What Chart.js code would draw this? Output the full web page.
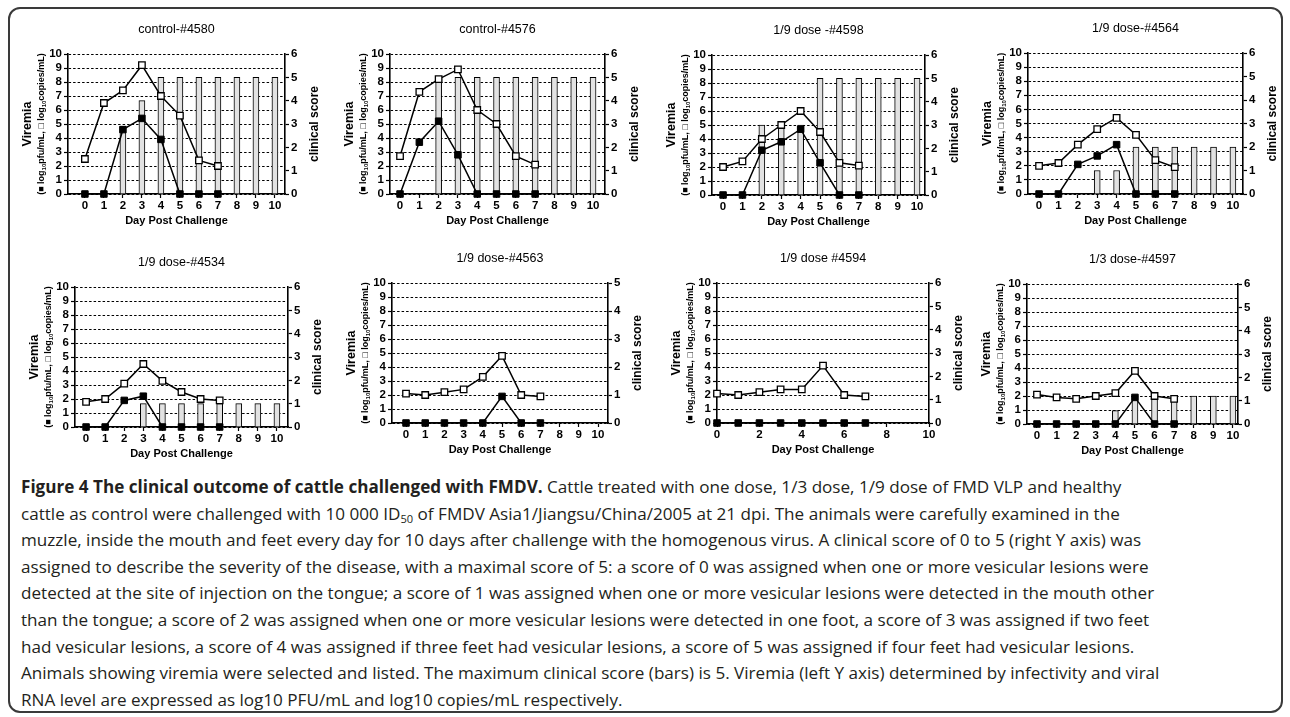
<!DOCTYPE html>
<html>
<head>
<meta charset="utf-8">
<script src="https://cdn.jsdelivr.net/npm/chart.js@4.4.1/dist/chart.umd.min.js"></script>
<style>
html, body { margin: 0; padding: 0; background: #fff; }
#page { position: relative; width: 1290px; height: 717px; overflow: hidden; }
#frame { position: absolute; left: 8px; top: 7px; width: 1271px; height: 702px; border: 2px solid #3a3a3a; border-radius: 12px; }
canvas { position: absolute; }
#caption { position: absolute; left: 21px; top: 474px; font-family: 'Open Sans', sans-serif; font-size: 17.1px; color: #231f20; }
#caption div { height: 26.6px; line-height: 26.6px; white-space: nowrap; }
#caption sub { font-size: 65%; vertical-align: -0.25em; line-height: 0; }
</style>
</head>
<body>
<div id="page">
  <div id="frame"></div>
  <canvas id="c4580"></canvas>
  <canvas id="c4576"></canvas>
  <canvas id="c4598"></canvas>
  <canvas id="c4564"></canvas>
  <canvas id="c4534"></canvas>
  <canvas id="c4563"></canvas>
  <canvas id="c4594"></canvas>
  <canvas id="c4597"></canvas>
  <div id="caption">
    <div><b>Figure 4 The clinical outcome of cattle challenged with FMDV.</b> Cattle treated with one dose, 1/3 dose, 1/9 dose of FMD VLP and healthy</div>
    <div>cattle as control were challenged with 10 000 ID<sub>50</sub> of FMDV Asia1/Jiangsu/China/2005 at 21 dpi. The animals were carefully examined in the</div>
    <div>muzzle, inside the mouth and feet every day for 10 days after challenge with the homogenous virus. A clinical score of 0 to 5 (right Y axis) was</div>
    <div>assigned to describe the severity of the disease, with a maximal score of 5: a score of 0 was assigned when one or more vesicular lesions were</div>
    <div>detected at the site of injection on the tongue; a score of 1 was assigned when one or more vesicular lesions were detected in the mouth other</div>
    <div>than the tongue; a score of 2 was assigned when one or more vesicular lesions were detected in one foot, a score of 3 was assigned if two feet</div>
    <div>had vesicular lesions, a score of 4 was assigned if three feet had vesicular lesions, a score of 5 was assigned if four feet had vesicular lesions.</div>
    <div>Animals showing viremia were selected and listed. The maximum clinical score (bars) is 5. Viremia (left Y axis) determined by infectivity and viral</div>
    <div>RNA level are expressed as log10 PFU/mL and log10 copies/mL respectively.</div>
  </div>
</div>
<script>
// days post challenge and tick labels
const days = [0, 1, 2, 3, 4, 5, 6, 7, 8, 9, 10];
const dayTicks = [0, 1, 2, 3, 4, 5, 6, 7, 8, 9, 10];
const dayTicksEven = [0, 2, 4, 6, 8, 10];
const viremiaTicks = [0, 1, 2, 3, 4, 5, 6, 7, 8, 9, 10];
const scoreTicks6 = [0, 1, 2, 3, 4, 5, 6];
const scoreTicks5 = [0, 1, 2, 3, 4, 5];

// viremia (log10 pfu/mL = filled, log10 copies/mL = open), days 0-7
// clinical score (bars), days 0-10
const pfu4580 = [0, 0, 4.6, 5.4, 3.9, 0, 0, 0];
const copies4580 = [2.5, 6.5, 7.4, 9.2, 7.0, 5.6, 2.4, 2.0];
const score4580 = [0, 0, 2.9, 4, 5, 5, 5, 5, 5, 5, 5];

const pfu4576 = [0, 3.7, 5.2, 2.8, 0, 0, 0, 0];
const copies4576 = [2.7, 7.3, 8.2, 8.9, 6.0, 5.0, 2.7, 2.1];
const score4576 = [0, 0, 5, 5, 5, 5, 5, 5, 5, 5, 5];

const pfu4598 = [0, 0, 3.2, 3.8, 4.7, 2.3, 0, 0];
const copies4598 = [2.0, 2.4, 4.0, 5.0, 6.0, 4.5, 2.3, 2.1];
const score4598 = [0, 0, 3, 3, 3, 5, 5, 5, 5, 5, 5];

const pfu4564 = [0, 0, 2.1, 2.7, 3.5, 0, 0, 0];
const copies4564 = [2.0, 2.2, 3.5, 4.6, 5.4, 4.2, 2.4, 1.9];
const score4564 = [0, 0, 0, 1, 1, 2, 2, 2, 2, 2, 2];

const pfu4534 = [0, 0, 1.9, 2.2, 0, 0, 0, 0];
const copies4534 = [1.8, 2.0, 3.1, 4.5, 3.3, 2.5, 2.0, 1.9];
const score4534 = [0, 0, 0, 1, 1, 1, 1, 1, 1, 1, 1];

const pfu4563 = [0, 0, 0, 0, 0, 1.9, 0, 0];
const copies4563 = [2.1, 2.0, 2.2, 2.4, 3.3, 4.8, 2.0, 1.9];
const score4563 = [0, 0, 0, 0, 0, 0, 0, 0, 0, 0, 0];

const pfu4594 = [0, 0, 0, 0, 0, 0, 0, 0];
const copies4594 = [2.1, 2.0, 2.2, 2.4, 2.4, 4.1, 2.0, 1.9];
const score4594 = [0, 0, 0, 0, 0, 0, 0, 0, 0, 0, 0];

const pfu4597 = [0, 0, 0, 0, 0, 1.9, 0, 0];
const copies4597 = [2.1, 1.9, 1.8, 2.0, 2.2, 3.8, 2.0, 1.8];
const score4597 = [0, 0, 0, 0, 0.57, 1.2, 1.2, 1.2, 1.2, 1.2, 1.2];

const FONT = "'Liberation Sans', Arial, sans-serif";
Chart.defaults.font.family = FONT;
Chart.defaults.color = '#000';

// panel layout: chart area [left, top, right, bottom] on the page, x range
const panels = [
  { id: 'c4580', title: 'control-#4580', area: [68, 54, 285, 194], xMin: -0.89, xMax: 10.53, xTicks: dayTicks, yTicks: scoreTicks6, pfu: pfu4580, copies: copies4580, score: score4580 },
  { id: 'c4576', title: 'control-#4576', area: [390, 54, 605, 194], xMin: -0.52, xMax: 10.62, xTicks: dayTicks, yTicks: scoreTicks6, pfu: pfu4576, copies: copies4576, score: score4576 },
  { id: 'c4598', title: '1/9 dose -#4598', area: [712, 55, 925, 195], xMin: -0.57, xMax: 10.41, xTicks: dayTicks, yTicks: scoreTicks6, pfu: pfu4598, copies: copies4598, score: score4598 },
  { id: 'c4564', title: '1/9 dose-#4564', area: [1028, 53, 1243, 194], xMin: -0.57, xMax: 10.52, xTicks: dayTicks, yTicks: scoreTicks6, pfu: pfu4564, copies: copies4564, score: score4564 },
  { id: 'c4534', title: '1/9 dose-#4534', area: [75, 287, 288, 427], xMin: -0.58, xMax: 10.58, xTicks: dayTicks, yTicks: scoreTicks6, pfu: pfu4534, copies: copies4534, score: score4534 },
  { id: 'c4563', title: '1/9 dose-#4563', area: [392, 283, 608, 423], xMin: -0.73, xMax: 10.52, xTicks: dayTicks, yTicks: scoreTicks5, pfu: pfu4563, copies: copies4563, score: score4563 },
  { id: 'c4594', title: '1/9 dose #4594', area: [717, 283, 929, 423], xMin: 0, xMax: 10, xTicks: dayTicksEven, yTicks: scoreTicks6, pfu: pfu4594, copies: copies4594, score: score4594 },
  { id: 'c4597', title: '1/3 dose-#4597', area: [1027, 284, 1238, 424], xMin: -0.51, xMax: 10.26, xTicks: dayTicks, yTicks: scoreTicks6, pfu: pfu4597, copies: copies4597, score: score4597 }
];

// rotated side titles (Viremia with subscripts, clinical score)
const sideTitles = {
  id: 'sideTitles',
  afterDraw(chart) {
    const a = chart.chartArea, ctx = chart.ctx;
    const cy = (a.top + a.bottom) / 2;
    ctx.save();
    ctx.fillStyle = '#000';
    ctx.textBaseline = 'middle';
    ctx.translate(a.left - 40, cy);
    ctx.rotate(-Math.PI / 2);
    ctx.textAlign = 'center';
    ctx.font = 'bold 12.5px ' + FONT;
    ctx.fillText('Viremia', 0, 0);
    const parts = [['(\u25A0 log', 9, 0], ['10', 6, 2], ['pfu/mL, \u25A1 log', 9, 0], ['10', 6, 2], ['copies/mL)', 9, 0]];
    let total = 0;
    parts.forEach(p => { ctx.font = 'bold ' + p[1] + 'px ' + FONT; p.w = ctx.measureText(p[0]).width; total += p.w; });
    let x = -total / 2;
    ctx.textAlign = 'left';
    parts.forEach(p => { ctx.font = 'bold ' + p[1] + 'px ' + FONT; ctx.fillText(p[0], x, 14 + p[2]); x += p.w; });
    ctx.restore();

    ctx.save();
    ctx.fillStyle = '#000';
    ctx.textBaseline = 'middle';
    ctx.textAlign = 'center';
    ctx.translate(a.right + 30, cy);
    ctx.rotate(-Math.PI / 2);
    ctx.font = 'bold 12px ' + FONT;
    ctx.fillText('clinical score', 0, 0);
    ctx.restore();
  }
};

function makePanel(p) {
  const [L, T, R, B] = p.area;
  const padL = 70, padR = 45, padT = 50, padB = 36;
  const cv = document.getElementById(p.id);
  cv.width = R - L + padL + padR;
  cv.height = B - T + padT + padB;
  cv.style.left = (L - padL) + 'px';
  cv.style.top = (T - padT) + 'px';
  const tickFont = { size: 11.5, weight: 'bold' };
  const bars = days.map((d, i) => ({ x: d, y: p.score[i] })).filter(v => v.y > 0);

  new Chart(cv, {
    type: 'bar',
    data: {
      datasets: [
        {
          type: 'line', yAxisID: 'y', order: 1, clip: false,
          data: p.copies.map((v, i) => ({ x: days[i], y: v })),
          borderColor: '#000', borderWidth: 1.5,
          pointStyle: 'rect', pointRadius: 4.6, pointBackgroundColor: '#fff',
          pointBorderColor: '#000', pointBorderWidth: 1.3
        },
        {
          type: 'line', yAxisID: 'y', order: 0, clip: false,
          data: p.pfu.map((v, i) => ({ x: days[i], y: v })),
          borderColor: '#000', borderWidth: 1.5,
          pointStyle: 'rect', pointRadius: 4.6, pointBackgroundColor: '#000',
          pointBorderColor: '#000', pointBorderWidth: 1
        },
        {
          type: 'bar', yAxisID: 'y1', order: 2, clip: false,
          data: bars, barThickness: 6,
          backgroundColor: '#e2e2e2', borderColor: '#000', borderWidth: 1
        }
      ]
    },
    options: {
      responsive: false,
      animation: false,
      devicePixelRatio: 1,
      events: [],
      layout: { padding: 0 },
      plugins: {
        legend: { display: false },
        tooltip: { enabled: false },
        title: {
          display: true, text: p.title, fullSize: false, color: '#000',
          font: { size: 12.5, weight: 'normal', lineHeight: 1.2 },
          padding: { top: 18.5, bottom: 16.5 }
        }
      },
      scales: {
        x: {
          type: 'linear', min: p.xMin, max: p.xMax, offset: false,
          afterBuildTicks: s => { s.ticks = p.xTicks.map(v => ({ value: v })); },
          afterFit: s => { s.height = padB; },
          grid: { display: true, offset: false, drawOnChartArea: false, drawTicks: true, tickLength: 4, color: '#000', tickWidth: 1.2 },
          border: { display: true, color: '#000', width: 1.6 },
          ticks: { font: tickFont, color: '#000', padding: 1, maxRotation: 0, autoSkip: false },
          title: { display: true, text: 'Day Post Challenge', color: '#000', font: { size: 11, weight: 'bold', lineHeight: 1.2 }, padding: { top: 0, bottom: 2.4 } }
        },
        y: {
          position: 'left', min: 0, max: 10,
          afterBuildTicks: s => { s.ticks = viremiaTicks.map(v => ({ value: v })); },
          afterFit: s => { s.width = padL; },
          grid: { color: '#000', lineWidth: 1, drawTicks: true, tickLength: 4, tickWidth: 1.2, borderDash: [2.5, 2] },
          border: { display: true, color: '#000', width: 1.6, dash: [2.5, 2] },
          ticks: { font: tickFont, color: '#000', padding: 2, autoSkip: false }
        },
        y1: {
          position: 'right', min: 0, max: p.yTicks[p.yTicks.length - 1],
          afterBuildTicks: s => { s.ticks = p.yTicks.map(v => ({ value: v })); },
          afterFit: s => { s.width = padR; },
          grid: { drawOnChartArea: false, drawTicks: true, tickLength: 4, color: '#000', tickWidth: 1.2 },
          border: { display: true, color: '#000', width: 1.6 },
          ticks: { font: tickFont, color: '#000', padding: 2, autoSkip: false }
        }
      }
    },
    plugins: [sideTitles]
  });
}

panels.forEach(makePanel);
</script>
</body>
</html>
